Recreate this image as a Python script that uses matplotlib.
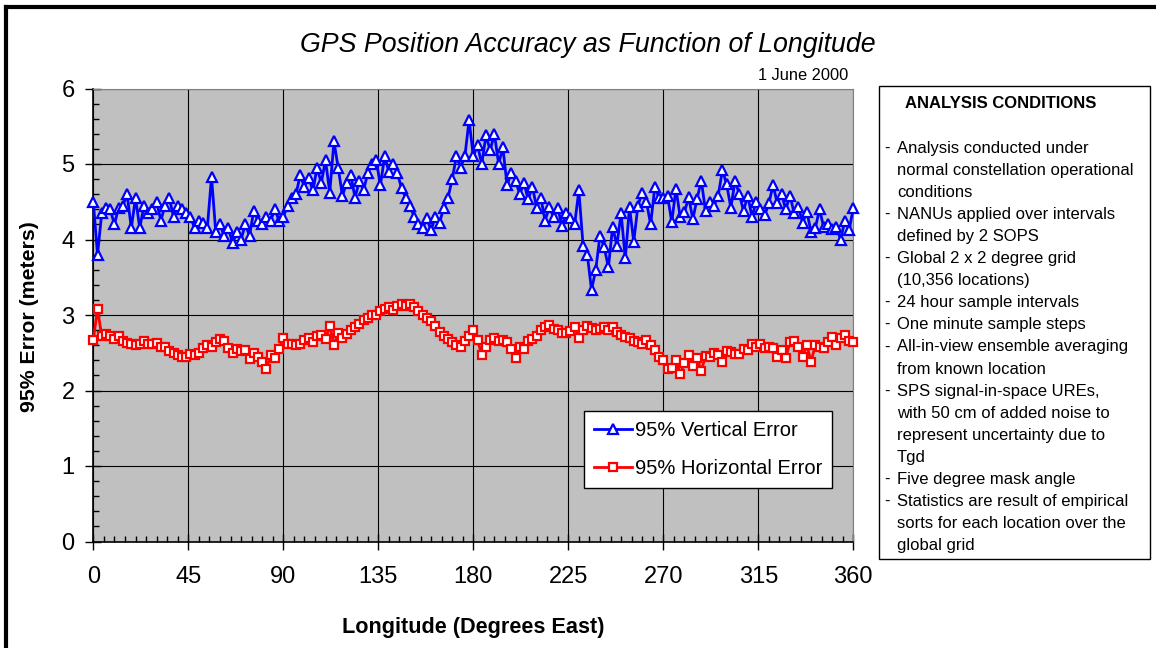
import numpy as np
import matplotlib
matplotlib.use("Agg")
import matplotlib.pyplot as plt
from matplotlib.ticker import MultipleLocator
from matplotlib.lines import Line2D
from matplotlib.patches import Rectangle

plt.rcParams['font.family'] = ['Liberation Sans', 'DejaVu Sans']

# longitude every 2 degrees
longitude = np.arange(0, 361, 2)

vertical_err = [
    4.50, 3.80, 4.35, 4.42, 4.40, 4.20, 4.42, 4.45, 4.60, 4.15, 4.55, 4.15, 4.45, 4.35, 4.40, 4.50, 4.25, 4.45, 4.55, 4.30, 4.45, 4.40,
    4.35, 4.30, 4.15, 4.25, 4.22, 4.15, 4.83, 4.10, 4.20, 4.05, 4.15, 3.95, 4.10, 4.00, 4.20, 4.05, 4.38, 4.25, 4.20, 4.30, 4.25, 4.40, 4.25,
    4.30, 4.45, 4.55, 4.60, 4.85, 4.70, 4.82, 4.65, 4.95, 4.75, 5.05, 4.62, 5.30, 4.95, 4.58, 4.75, 4.85, 4.55, 4.78, 4.65, 4.88, 5.00,
    5.05, 4.72, 5.10, 4.90, 5.00, 4.88, 4.68, 4.55, 4.45, 4.30, 4.20, 4.15, 4.28, 4.12, 4.30, 4.22, 4.42, 4.55, 4.80, 5.10, 4.95, 5.10, 5.58,
    5.10, 5.25, 5.00, 5.38, 5.18, 5.40, 5.00, 5.22, 4.72, 4.88, 4.78, 4.60, 4.75, 4.53, 4.70, 4.42, 4.55, 4.25, 4.43, 4.30, 4.42, 4.18, 4.35,
    4.28, 4.20, 4.65, 3.92, 3.80, 3.33, 3.60, 4.05, 3.90, 3.63, 4.17, 3.92, 4.35, 3.75, 4.43, 3.97, 4.45, 4.62, 4.50, 4.20, 4.70, 4.55,
    4.55, 4.58, 4.23, 4.67, 4.30, 4.36, 4.56, 4.27, 4.54, 4.78, 4.38, 4.50, 4.45, 4.58, 4.92, 4.73, 4.42, 4.78, 4.60, 4.38, 4.58, 4.30,
    4.50, 4.40, 4.32, 4.48, 4.72, 4.48, 4.60, 4.40, 4.58, 4.35, 4.43, 4.22, 4.37, 4.10, 4.15, 4.40, 4.16, 4.20, 4.14, 4.16, 4.00, 4.25, 4.12, 4.42,
]

horizontal_err = [
    2.67, 3.08, 2.72, 2.75, 2.72, 2.68, 2.72, 2.66, 2.63, 2.62, 2.60, 2.62, 2.66, 2.62, 2.61, 2.63, 2.58, 2.57, 2.52, 2.50, 2.47, 2.44,
    2.45, 2.48, 2.47, 2.50, 2.56, 2.60, 2.57, 2.64, 2.68, 2.66, 2.56, 2.50, 2.55, 2.52, 2.53, 2.42, 2.50, 2.45, 2.38, 2.29, 2.47, 2.43, 2.55,
    2.70, 2.62, 2.62, 2.60, 2.62, 2.67, 2.69, 2.64, 2.72, 2.74, 2.68, 2.86, 2.60, 2.76, 2.70, 2.75, 2.80, 2.84, 2.88, 2.93, 2.96, 3.00,
    3.00, 3.05, 3.08, 3.10, 3.06, 3.12, 3.15, 3.12, 3.15, 3.10, 3.05, 3.00, 2.96, 2.92, 2.85, 2.78, 2.72, 2.68, 2.64, 2.60, 2.57, 2.66, 2.72,
    2.80, 2.67, 2.47, 2.57, 2.67, 2.69, 2.66, 2.67, 2.64, 2.55, 2.43, 2.58, 2.55, 2.65, 2.68, 2.72, 2.80, 2.84, 2.87, 2.82, 2.80, 2.76, 2.76,
    2.79, 2.84, 2.70, 2.80, 2.86, 2.83, 2.80, 2.82, 2.84, 2.80, 2.84, 2.78, 2.74, 2.71, 2.69, 2.66, 2.64, 2.62, 2.67, 2.60, 2.54, 2.45,
    2.40, 2.28, 2.30, 2.40, 2.22, 2.36, 2.47, 2.33, 2.43, 2.26, 2.46, 2.45, 2.50, 2.47, 2.38, 2.52, 2.51, 2.49, 2.48, 2.55, 2.53, 2.62,
    2.58, 2.62, 2.56, 2.58, 2.56, 2.45, 2.53, 2.43, 2.64, 2.66, 2.58, 2.45, 2.60, 2.38, 2.60, 2.58, 2.56, 2.64, 2.71, 2.60, 2.70, 2.73, 2.66, 2.64,
]

conditions = [
    ["Analysis conducted under", "normal constellation operational", "conditions"],
    ["NANUs applied over intervals", "defined by 2 SOPS"],
    ["Global 2 x 2 degree grid", "(10,356 locations)"],
    ["24 hour sample intervals"],
    ["One minute sample steps"],
    ["All-in-view ensemble averaging", "from known location"],
    ["SPS signal-in-space UREs,", "with 50 cm of added noise to",
     "represent uncertainty due to", "Tgd"],
    ["Five degree mask angle"],
    ["Statistics are result of empirical", "sorts for each location over the", "global grid"],
]

W, H = 1156, 648
fig = plt.figure(figsize=(W / 100, H / 100), dpi=100)
ax = fig.add_axes([93.3 / W, 1 - 541.5 / H, 760 / W, 453 / H])
ax.set_facecolor('#c0c0c0')

ax.plot(longitude, vertical_err, color='#0000ff', lw=2.0, marker='^', ms=7,
        mfc='white', mec='#0000ff', mew=1.6, label='95% Vertical Error', clip_on=False, zorder=3)
ax.plot(longitude, horizontal_err, color='#ff0000', lw=2.0, marker='s', ms=6,
        mfc='white', mec='#ff0000', mew=1.6, label='95% Horizontal Error', clip_on=False, zorder=3)

ax.set_xlim(0, 360)
ax.set_ylim(0, 6)
ax.set_xticks(range(0, 361, 45))
ax.set_yticks(range(0, 7))
ax.xaxis.set_minor_locator(MultipleLocator(5))
ax.yaxis.set_minor_locator(MultipleLocator(0.2))
ax.grid(True, which='major', color='black', lw=0.8)
ax.set_axisbelow(True)
ax.tick_params(which='major', direction='inout', length=11, width=1, labelsize=17)
ax.tick_params(axis='x', which='major', pad=12)
ax.tick_params(axis='y', which='major', pad=8)
ax.tick_params(which='minor', direction='in', length=4.5, width=1)
for s in ['left', 'bottom']:
    ax.spines[s].set_color('black')
    ax.spines[s].set_linewidth(1.2)
for s in ['top', 'right']:
    ax.spines[s].set_color('#808080')
    ax.spines[s].set_linewidth(0.8)

leg = ax.legend(loc='upper left', bbox_to_anchor=(0.645, 0.289), borderaxespad=0,
                fontsize=14.5, frameon=True, fancybox=False, edgecolor='black',
                framealpha=1, handlelength=1.9, handletextpad=0.15, labelspacing=0.95,
                borderpad=0.5)
leg.get_frame().set_linewidth(1)

fig.text(588 / W, 1 - 45 / H, 'GPS Position Accuracy as Function of Longitude',
         ha='center', va='center', fontsize=19.3, style='italic')
fig.text(848 / W, 1 - 75 / H, '1 June 2000', ha='right', va='center', fontsize=11.8)
fig.text(30 / W, 1 - 317 / H, '95% Error (meters)', ha='center', va='center',
         rotation=90, fontsize=15.3, fontweight='bold')
fig.text(473 / W, 1 - 627 / H, 'Longitude (Degrees East)', ha='center', va='center',
         fontsize=15.6, fontweight='bold')

# conditions panel
fig.add_artist(Rectangle((879 / W, 1 - 559 / H), (1150 - 879) / W, (559 - 86) / H,
                         transform=fig.transFigure, fill=False, ec='black', lw=1))
fig.text(1001 / W, 1 - 104 / H, 'ANALYSIS CONDITIONS', ha='center', va='center',
         fontsize=12, fontweight='bold')
y = 148
for item in conditions:
    for i, line in enumerate(item):
        if i == 0:
            fig.text(884 / W, 1 - y / H, '-', ha='left', va='center', fontsize=12)
        fig.text(897 / W, 1 - y / H, line, ha='left', va='center', fontsize=12)
        y += 22.1

# outer frame
fig.add_artist(Line2D([6 / W, 6 / W], [0, 1 - 7 / H], transform=fig.transFigure, color='black', lw=3))
fig.add_artist(Line2D([6 / W, 1], [1 - 7 / H, 1 - 7 / H], transform=fig.transFigure, color='black', lw=3))

fig.savefig('out.png', dpi=100)
